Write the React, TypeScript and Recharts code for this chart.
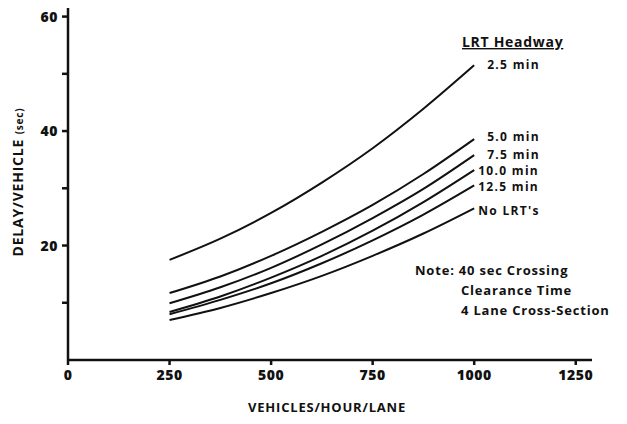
import { LineChart, Line, XAxis, YAxis, Customized } from "recharts";

// vehicles/hour/lane
const volumes = [250, 375, 500, 625, 750, 875, 1000];

// delay/vehicle (sec) per LRT headway
const headway25 = [17.5, 21.2, 25.7, 31.0, 37.0, 43.9, 51.5];
const headway50 = [11.7, 14.6, 18.2, 22.4, 27.1, 32.5, 38.6];
const headway75 = [9.9, 12.7, 16.1, 20.2, 24.8, 29.9, 35.8];
const headway100 = [8.4, 11.1, 14.4, 18.2, 22.6, 27.6, 33.2];
const headway125 = [8.0, 10.5, 13.4, 16.9, 20.9, 25.4, 30.5];
const noLrt = [7.0, 9.1, 11.7, 14.7, 18.2, 22.1, 26.5];

const xTicks = [0, 250, 500, 750, 1000, 1250];
const yTicks = [10, 20, 30, 40, 50, 60];

const series = [
  { key: "h25", label: "2.5 min", values: headway25, dx: 13, dy: 0 },
  { key: "h50", label: "5.0 min", values: headway50, dx: 13, dy: -2 },
  { key: "h75", label: "7.5 min", values: headway75, dx: 13, dy: 0 },
  { key: "h100", label: "10.0 min", values: headway100, dx: 4, dy: 1 },
  { key: "h125", label: "12.5 min", values: headway125, dx: 4, dy: 2 },
  { key: "none", label: "No LRT's", values: noLrt, dx: 4, dy: 3 },
];

const data = volumes.map((v, i) => {
  const row: Record<string, number> = { v };
  series.forEach((s) => (row[s.key] = s.values[i]));
  return row;
});

const FONT = "'Open Sans', sans-serif";
const INK = "#111";

function YTick(props: any) {
  const { x, y, payload } = props;
  if (payload.value % 20 !== 0) return null;
  return (
    <text x={x} y={y} dy={5} textAnchor="end" fontFamily={FONT} fontWeight={800} fontSize={14} letterSpacing={0.5} fill={INK}>
      {payload.value}
    </text>
  );
}

function XTick(props: any) {
  const { x, y, payload } = props;
  return (
    <text x={x} y={y} dy={13} textAnchor="middle" fontFamily={FONT} fontWeight={800} fontSize={14} letterSpacing={0.5} fill={INK}>
      {payload.value}
    </text>
  );
}

function Notes() {
  return (
    <g fontFamily={FONT} fontWeight={700} fill={INK}>
      <text x={462} y={47} fontSize={14} letterSpacing={0.7} textDecoration="underline">LRT Headway</text>
      <text x={415} y={275} fontSize={13} letterSpacing={0.8}>Note: 40 sec Crossing</text>
      <text x={461} y={295} fontSize={13} letterSpacing={0.8}>Clearance Time</text>
      <text x={461} y={315} fontSize={13} letterSpacing={0.8}>4 Lane Cross-Section</text>
      <text
        transform="translate(23 182) rotate(-90)"
        textAnchor="middle"
        fontSize={14}
        letterSpacing={0.8}
      >
        DELAY/VEHICLE <tspan fontSize={10}>(sec)</tspan>
      </text>
      <text x={327} y={412} textAnchor="middle" fontSize={13} letterSpacing={0.8}>VEHICLES/HOUR/LANE</text>
    </g>
  );
}

export default function App() {
  const last = volumes.length - 1;
  return (
    <div style={{ position: "absolute", left: 0, top: 0, background: "#fff" }}>
      <LineChart width={627} height={424} data={data} margin={{ top: 8, right: 35, left: 0, bottom: 0 }}>
        <XAxis
          type="number"
          dataKey="v"
          domain={[0, 1290]}
          ticks={xTicks}
          allowDataOverflow
          height={64}
          stroke={INK}
          strokeWidth={2.5}
          tickSize={5}
          tick={<XTick />}
        />
        <YAxis
          type="number"
          domain={[0, 61.5]}
          ticks={yTicks}
          allowDataOverflow
          width={68}
          stroke={INK}
          strokeWidth={2.5}
          tickSize={6}
          tickMargin={4}
          tick={<YTick />}
        />
        {series.map((s) => (
          <Line
            key={s.key}
            dataKey={s.key}
            type="monotone"
            stroke={INK}
            strokeWidth={2}
            dot={false}
            isAnimationActive={false}
            label={(p: any) =>
              p.index === last ? (
                <text
                  key={s.key + "-lbl"}
                  x={p.x + s.dx}
                  y={p.y + s.dy}
                  dy={4}
                  fontFamily={FONT}
                  fontWeight={700}
                  fontSize={12}
                  letterSpacing={1.3}
                  fill={INK}
                >
                  {s.label}
                </text>
              ) : (
                <g key={s.key + "-" + p.index} />
              )
            }
          />
        ))}
        <Customized component={Notes} />
      </LineChart>
    </div>
  );
}
